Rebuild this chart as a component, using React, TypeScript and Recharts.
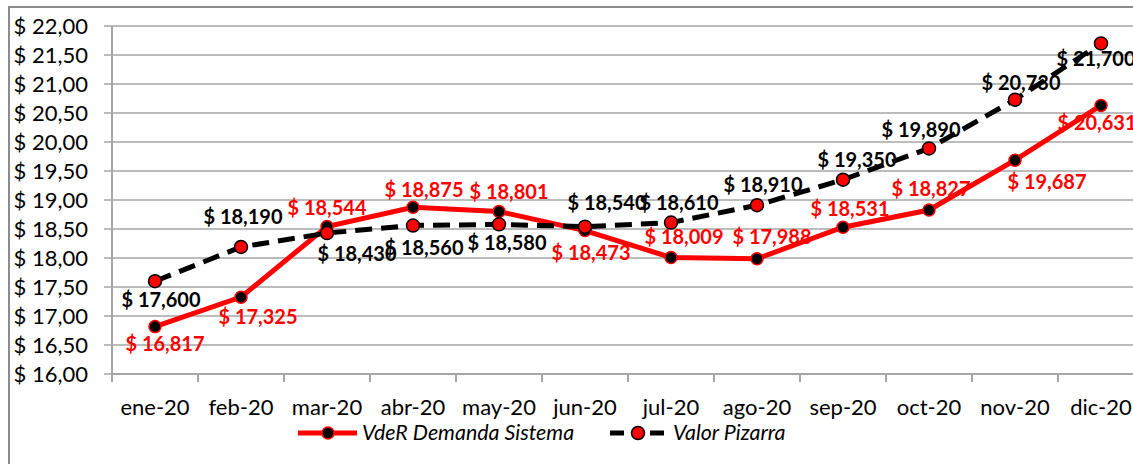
import React from 'react';
import { LineChart, Line, XAxis, YAxis, CartesianGrid, LabelList } from 'recharts';

const months = ['ene-20', 'feb-20', 'mar-20', 'abr-20', 'may-20', 'jun-20', 'jul-20', 'ago-20', 'sep-20', 'oct-20', 'nov-20', 'dic-20'];
const vdeRDemanda = [16.817, 17.325, 18.544, 18.875, 18.801, 18.473, 18.009, 17.988, 18.531, 18.827, 19.687, 20.631];
const valorPizarra = [17.6, 18.19, 18.43, 18.56, 18.58, 18.54, 18.61, 18.91, 19.35, 19.89, 20.73, 21.7];
const yTicks = [16, 16.5, 17, 17.5, 18, 18.5, 19, 19.5, 20, 20.5, 21, 21.5, 22];

const seriesNames = ['VdeR Demanda Sistema', 'Valor Pizarra'];

// label offsets relative to each point (dx, dy to label centre)
const vdeRLabelOffsets: [number, number][] = [[10, 17], [17, 20], [0, -18], [11, -17], [10, -20], [6, 22], [13, -20], [15, -22], [7, -18], [2, -21], [32, 22], [-4, 18]];
const pizarraLabelOffsets: [number, number][] = [[6, 19], [2, -30], [30, 21], [11, 22], [8, 19], [22, -24], [8, -20], [6, -20], [14, -20], [-8, -18], [6, -17], [-5, 16]];

const data = months.map((m, i) => ({ month: m, vdeR: vdeRDemanda[i], pizarra: valorPizarra[i] }));

const FONT = 'Lato, "Open Sans", sans-serif';
const CHART_W = 1150;
const CHART_H = 464;
const MARGIN = { top: 26, right: 6, bottom: 0, left: 12 };
const Y_AXIS_W = 100;
const PLOT_W = CHART_W - MARGIN.left - MARGIN.right - Y_AXIS_W;
const BAND = PLOT_W / months.length;
const GRID = '#a6a6a6';

const fmtLabel = (v: number) => '$ ' + v.toFixed(3).replace('.', ',');
const fmtTick = (v: number) => '$ ' + v.toFixed(2).replace('.', ',');

const XTick = (props: any) => {
  const { x, y, payload, index } = props;
  return (
    <g>
      <line x1={x - BAND / 2} x2={x - BAND / 2} y1={y} y2={y + 8} stroke={GRID} strokeWidth={2} />
      {index === months.length - 1 && (
        <line x1={x + BAND / 2} x2={x + BAND / 2} y1={y} y2={y + 8} stroke={GRID} strokeWidth={2} />
      )}
      <text x={x} y={y + 41} textAnchor="middle" fontFamily={FONT} fontSize={22} fill="#000">
        {payload.value}
      </text>
    </g>
  );
};

const makeLabel = (offsets: [number, number][], color: string) => (props: any) => {
  const { x, y, value, index } = props;
  const [dx, dy] = offsets[index] || [0, -18];
  return (
    <text
      x={x + dx}
      y={y + dy + 7}
      textAnchor="middle"
      fontFamily={FONT}
      fontWeight="bold"
      fontSize={20}
      fill={color}
    >
      {fmtLabel(value)}
    </text>
  );
};

export default function App() {
  return (
    <div style={{ position: 'absolute', left: 0, top: 0, width: 1133, height: 464, overflow: 'hidden', background: '#fff' }}>
      <div style={{ position: 'absolute', left: 8, top: 6, width: 1300, height: 600, border: '2px solid #8c8c8c' }} />
      <div style={{ position: 'absolute', left: 0, top: 0 }}>
        <LineChart width={CHART_W} height={CHART_H} data={data} margin={MARGIN}>
          <CartesianGrid vertical={false} stroke={GRID} strokeWidth={1.5} />
          <XAxis
            dataKey="month"
            scale="band"
            interval={0}
            tickLine={false}
            tickSize={0}
            tickMargin={0}
            height={CHART_H - 374}
            axisLine={{ stroke: GRID, strokeWidth: 2 }}
            tick={<XTick />}
          />
          <YAxis
            width={Y_AXIS_W}
            domain={[16, 22]}
            ticks={yTicks}
            interval={0}
            tickFormatter={fmtTick}
            tickSize={8}
            tickMargin={16}
            axisLine={{ stroke: GRID, strokeWidth: 2 }}
            tickLine={{ stroke: GRID, strokeWidth: 1.5 }}
            tick={{ fontFamily: FONT, fontSize: 22, fill: '#000' }}
          />
          <Line
            dataKey="vdeR"
            name={seriesNames[0]}
            stroke="#ff0000"
            strokeWidth={5}
            dot={{ r: 6, fill: '#000', stroke: '#ff0000', strokeWidth: 1.5 }}
            isAnimationActive={false}
          >
            <LabelList dataKey="vdeR" content={makeLabel(vdeRLabelOffsets, '#ff0000')} />
          </Line>
          <Line
            dataKey="pizarra"
            name={seriesNames[1]}
            stroke="#000"
            strokeWidth={5}
            strokeDasharray="17 9"
            dot={{ r: 6.5, fill: '#ff0000', stroke: '#000', strokeWidth: 1.5, strokeDasharray: '' }}
            isAnimationActive={false}
          >
            <LabelList dataKey="pizarra" content={makeLabel(pizarraLabelOffsets, '#000')} />
          </Line>
        </LineChart>
      </div>
      <svg style={{ position: 'absolute', left: 0, top: 0 }} width={1133} height={464}>
        <line x1={298} x2={357} y1={433} y2={433} stroke="#ff0000" strokeWidth={5} />
        <circle cx={328} cy={433} r={6} fill="#000" stroke="#ff0000" strokeWidth={1.5} />
        <text x={362} y={440} fontFamily={FONT} fontStyle="italic" fontSize={21.4} fill="#000">{seriesNames[0]}</text>
        <line x1={610} x2={624} y1={433} y2={433} stroke="#000" strokeWidth={5} />
        <line x1={650} x2={664} y1={433} y2={433} stroke="#000" strokeWidth={5} />
        <circle cx={638} cy={433} r={6.5} fill="#ff0000" stroke="#000" strokeWidth={1.5} />
        <text x={673} y={440} fontFamily={FONT} fontStyle="italic" fontSize={21.4} fill="#000">{seriesNames[1]}</text>
      </svg>
    </div>
  );
}
